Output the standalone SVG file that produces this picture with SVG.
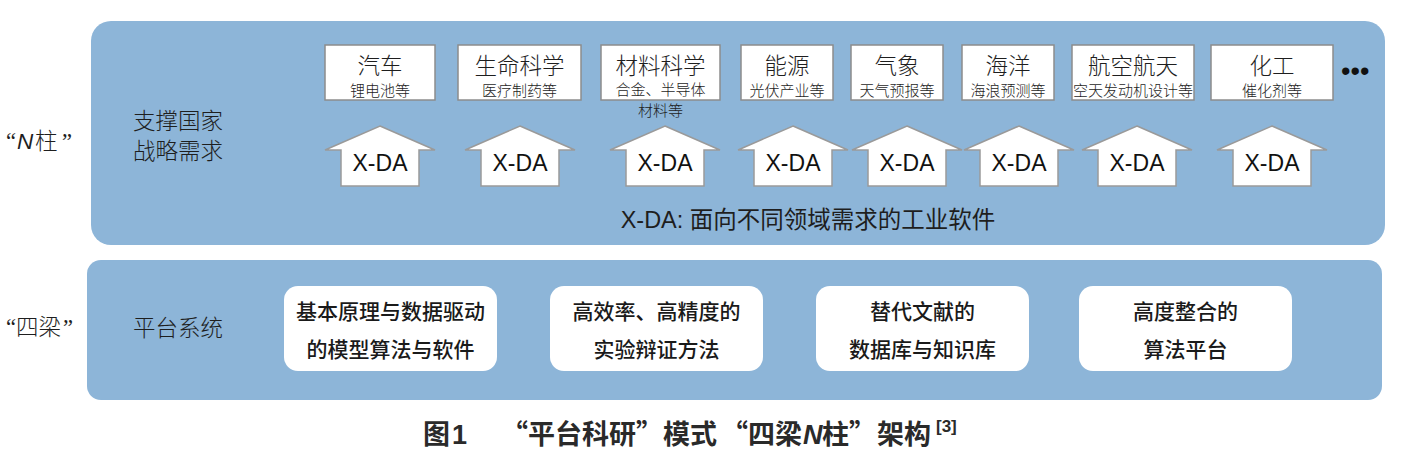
<svg xmlns="http://www.w3.org/2000/svg" xmlns:xlink="http://www.w3.org/1999/xlink" width="1418" height="456" viewBox="0 0 1418 456">
<style>
.panel{fill:#8db5d8;}
.dbox{fill:#ffffff;stroke:#8c8c8c;stroke-width:1.5;}
.pbox{fill:#ffffff;}
.arrow{fill:#ffffff;stroke:#9a9a9a;stroke-width:1.5;stroke-linejoin:miter;}
.cjk{font-family:"Noto Sans CJK SC","Liberation Sans",sans-serif;fill:#1e1e1e;}
.title{font-size:22.5px;font-weight:300;text-anchor:middle;}
.sub{font-size:15px;font-weight:300;text-anchor:middle;}
.lbl{font-size:22.5px;font-weight:300;}
.xda{font-family:"Liberation Sans",Arial,sans-serif;font-size:23px;text-anchor:middle;fill:#111;}
.ptxt{font-size:21px;font-weight:500;text-anchor:middle;fill:#1a1a1a;}
.lat{font-family:"Liberation Sans",Arial,sans-serif;}
.q{font-family:"Liberation Serif","Times New Roman",serif;}
.cap{font-family:"Noto Sans CJK SC","Liberation Sans",sans-serif;font-size:27px;font-weight:bold;fill:#2a2a2a;}
</style>
<defs>
<path id="up" d="M0,-60 L55,-36 L39,-36 L39,0 L-39,0 L-39,-36 L-55,-36 Z"/>
</defs>

<!-- panels -->
<rect id="panel-top" class="panel" x="91" y="21" width="1294" height="224" rx="20"/>
<rect id="panel-bottom" class="panel" x="87" y="260" width="1295" height="140" rx="14"/>

<!-- side labels -->
<g id="label-N">
<text class="cjk lbl" y="149"><tspan class="q" x="6">“</tspan><tspan class="lat" x="17" font-style="italic" font-weight="normal">N</tspan><tspan x="35">柱</tspan><tspan class="q" x="62">”</tspan></text>
</g>
<g id="label-4">
<text class="cjk lbl" y="335"><tspan class="q" x="6">“</tspan><tspan x="16">四梁</tspan><tspan class="q" x="63">”</tspan></text>
</g>
<g id="label-strategy">
<text class="cjk lbl" x="133" y="129">支撑国家</text>
<text class="cjk lbl" x="133" y="159">战略需求</text>
</g>
<g id="label-platform">
<text class="cjk lbl" x="133" y="336">平台系统</text>
</g>

<!-- domain boxes -->
<g id="d-auto"><rect class="dbox" x="325" y="45" width="110" height="55"/><text class="cjk title" x="380" y="74">汽车</text><text class="cjk sub" x="380" y="96">锂电池等</text></g>
<g id="d-life"><rect class="dbox" x="458" y="45" width="123" height="55"/><text class="cjk title" x="519.5" y="74">生命科学</text><text class="cjk sub" x="519.5" y="96">医疗制药等</text></g>
<g id="d-mat"><rect class="dbox" x="601" y="45" width="119" height="55"/><text class="cjk title" x="660.5" y="74">材料科学</text><text class="cjk sub" x="660.5" y="95">合金、半导体</text><text class="cjk sub" x="660.5" y="116">材料等</text></g>
<g id="d-energy"><rect class="dbox" x="741" y="45" width="92" height="55"/><text class="cjk title" x="787" y="74">能源</text><text class="cjk sub" x="787" y="96">光伏产业等</text></g>
<g id="d-met"><rect class="dbox" x="851" y="45" width="92" height="55"/><text class="cjk title" x="897" y="74">气象</text><text class="cjk sub" x="897" y="96">天气预报等</text></g>
<g id="d-ocean"><rect class="dbox" x="962" y="45" width="92" height="55"/><text class="cjk title" x="1008" y="74">海洋</text><text class="cjk sub" x="1008" y="96">海浪预测等</text></g>
<g id="d-aero"><rect class="dbox" x="1072" y="45" width="122" height="55"/><text class="cjk title" x="1133" y="74">航空航天</text><text class="cjk sub" x="1133" y="96" font-size="14.8">空天发动机设计等</text></g>
<g id="d-chem"><rect class="dbox" x="1211" y="45" width="122" height="55"/><text class="cjk title" x="1272" y="74">化工</text><text class="cjk sub" x="1272" y="96">催化剂等</text></g>
<g id="more"><text x="1341" y="80" font-family="Liberation Sans,Arial,sans-serif" font-size="27" fill="#111">•••</text></g>

<!-- X-DA arrows -->
<g id="connectors">
<g id="a1"><use xlink:href="#up" href="#up" class="arrow" x="380" y="186"/><text class="xda" x="380" y="171">X-DA</text></g>
<g id="a2"><use xlink:href="#up" href="#up" class="arrow" x="520" y="186"/><text class="xda" x="520" y="171">X-DA</text></g>
<g id="a3"><use xlink:href="#up" href="#up" class="arrow" x="665" y="186"/><text class="xda" x="665" y="171">X-DA</text></g>
<g id="a4"><use xlink:href="#up" href="#up" class="arrow" x="793" y="186"/><text class="xda" x="793" y="171">X-DA</text></g>
<g id="a5"><use xlink:href="#up" href="#up" class="arrow" x="907" y="186"/><text class="xda" x="907" y="171">X-DA</text></g>
<g id="a6"><use xlink:href="#up" href="#up" class="arrow" x="1019" y="186"/><text class="xda" x="1019" y="171">X-DA</text></g>
<g id="a7"><use xlink:href="#up" href="#up" class="arrow" x="1137" y="186"/><text class="xda" x="1137" y="171">X-DA</text></g>
<g id="a8"><use xlink:href="#up" href="#up" class="arrow" x="1272" y="186"/><text class="xda" x="1272" y="171">X-DA</text></g>
</g>

<g id="xda-note">
<text class="cjk" x="808" y="228" font-size="23.5" text-anchor="middle" fill="#111"><tspan class="lat">X-DA: </tspan>面向不同领域需求的工业软件</text>
</g>

<!-- platform boxes -->
<g id="p1"><rect class="pbox" x="284" y="286" width="213" height="85" rx="14"/><text class="cjk ptxt" x="390.5" y="319">基本原理与数据驱动</text><text class="cjk ptxt" x="390.5" y="357">的模型算法与软件</text></g>
<g id="p2"><rect class="pbox" x="550" y="286" width="213" height="85" rx="14"/><text class="cjk ptxt" x="656.5" y="319">高效率、高精度的</text><text class="cjk ptxt" x="656.5" y="357">实验辩证方法</text></g>
<g id="p3"><rect class="pbox" x="816" y="286" width="213" height="85" rx="14"/><text class="cjk ptxt" x="922.5" y="319">替代文献的</text><text class="cjk ptxt" x="922.5" y="357">数据库与知识库</text></g>
<g id="p4"><rect class="pbox" x="1079" y="286" width="213" height="85" rx="14"/><text class="cjk ptxt" x="1185.5" y="319">高度整合的</text><text class="cjk ptxt" x="1185.5" y="357">算法平台</text></g>

<!-- caption -->
<g id="caption">
<text class="cap" y="444"><tspan x="423">图</tspan><tspan class="lat" x="452">1</tspan><tspan x="501">“平台科研”模式</tspan><tspan x="721">“四梁</tspan><tspan class="lat" x="803" font-style="italic">N</tspan><tspan x="822">柱”</tspan><tspan x="877">架构</tspan><tspan class="lat" x="936" y="432" font-size="17">[3]</tspan></text>
</g>
</svg>
